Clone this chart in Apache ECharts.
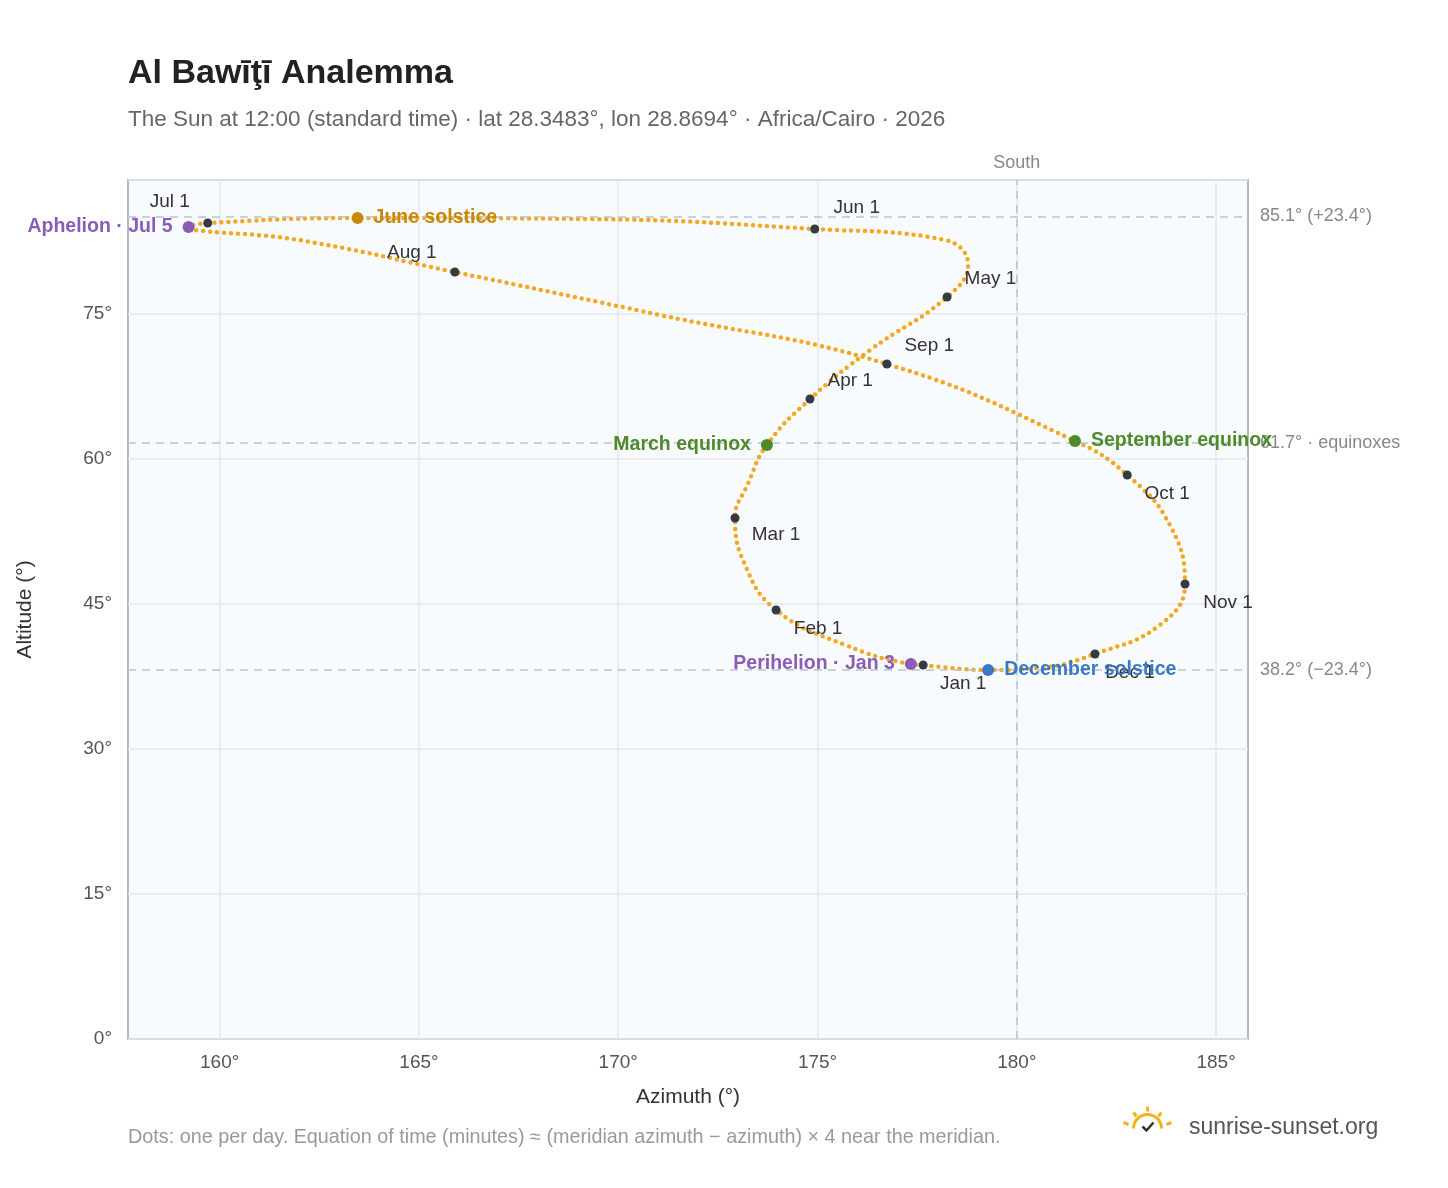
<!DOCTYPE html>
<html><head><meta charset="utf-8">
<script src="https://cdn.jsdelivr.net/npm/echarts@6/dist/echarts.min.js"></script>
<style>html,body{margin:0;padding:0;background:#fff}#c{width:1448px;height:1188px}</style>
</head><body><div id="c"></div>
<script>
// Analemma path (azimuth °, altitude °), Jan 1 → Jan 1
const pathAz  = [177.65,177.34,175.69,173.96,173.18,172.93,173.25,173.73,174.81,176.32,178.25,178.78,178.2,174.93,169.29,163.46,159.70,159.22,162.0,165.90,171.04,176.74,181.46,182.77,183.84,184.22,183.59,181.96,180.58,179.28,177.65];
const pathAlt = [38.69,38.79,40.76,44.38,49.03,53.9,57.4,61.45,66.2,71.27,76.76,80.07,82.65,83.79,84.82,84.93,84.41,84.0,82.65,79.34,74.9,69.83,61.86,58.34,53.17,47.07,42.83,39.83,38.38,38.17,38.69];
// Month-start markers
const months   = ['Jan 1','Feb 1','Mar 1','Apr 1','May 1','Jun 1','Jul 1','Aug 1','Sep 1','Oct 1','Nov 1','Dec 1'];
const monthAz  = [177.65,173.96,172.93,174.81,178.25,174.93,159.70,165.90,176.74,182.77,184.22,181.96];
const monthAlt = [38.69,44.38,53.9,66.2,76.76,83.79,84.41,79.34,69.83,58.34,47.07,39.83];
// Special events
const events   = ['June solstice','Aphelion · Jul 5','March equinox','September equinox','Perihelion · Jan 3','December solstice'];
const eventAz  = [163.46,159.22,173.73,181.46,177.34,179.28];
const eventAlt = [84.93,84.0,61.45,61.86,38.79,38.17];
// Reference lines
const refAlt = [85.1,61.7,38.2];
const refLabels = ['85.1° (+23.4°)','61.7° · equinoxes','38.2° (−23.4°)'];
const xTicks = [160,165,170,175,180,185];

const monthPos = {'Jan 1':['bottom',[40,0]],'Feb 1':['bottom',[42,0]],'Mar 1':['bottom',[41,-2]],'Apr 1':['right',[8,-18]],
 'May 1':['right',[8,-18]],'Jun 1':['top',[42,-2]],'Jul 1':['top',[-38,-2]],'Aug 1':['top',[-43,0]],
 'Sep 1':['right',[8,-18]],'Oct 1':['bottom',[40,0]],'Nov 1':['bottom',[43,0]],'Dec 1':['bottom',[35,0]]};
const evStyle = {'June solstice':['#c8890a','right'],'Aphelion · Jul 5':['#8a5cb8','left'],'March equinox':['#4f8a2a','left'],
 'September equinox':['#4f8a2a','right'],'Perihelion · Jan 3':['#8a5cb8','left'],'December solstice':['#3a78c4','right']};

const chart = echarts.init(document.getElementById('c'));
const F = 'Liberation Sans, Arial, sans-serif';
chart.setOption({
  animation:false,
  textStyle:{fontFamily:F},
  title:[{text:'Al Bawīţī Analemma',left:123,top:52,textStyle:{fontSize:34,fontWeight:'bold',color:'#222',fontFamily:F}},
   {text:'The Sun at 12:00 (standard time) · lat 28.3483°, lon 28.8694° · Africa/Cairo · 2026',left:123,top:103,textStyle:{fontSize:22.5,fontWeight:'normal',color:'#666',fontFamily:F}},
   {text:'Dots: one per day. Equation of time (minutes) ≈ (meridian azimuth − azimuth) × 4 near the meridian.',left:123,top:1123,textStyle:{fontSize:19.8,fontWeight:'normal',color:'#999',fontFamily:F}},
   {text:'sunrise-sunset.org',left:1184,top:1111,textStyle:{fontSize:23,fontWeight:'normal',color:'#555',fontFamily:F}}],
  graphic:[{type:'group',left:1121,top:1104,children:[
    {type:'arc',shape:{cx:27,cy:26,r:14,startAngle:Math.PI,endAngle:2*Math.PI},style:{stroke:'#f2b41c',lineWidth:3,fill:null}},
    {type:'line',shape:{x1:27,y1:4,x2:27,y2:9},style:{stroke:'#f2b41c',lineWidth:3}},
    {type:'line',shape:{x1:13,y1:10,x2:16,y2:14},style:{stroke:'#f2b41c',lineWidth:3}},
    {type:'line',shape:{x1:41,y1:10,x2:38,y2:14},style:{stroke:'#f2b41c',lineWidth:3}},
    {type:'line',shape:{x1:3,y1:20,x2:8,y2:22},style:{stroke:'#f2b41c',lineWidth:3}},
    {type:'line',shape:{x1:51,y1:20,x2:46,y2:22},style:{stroke:'#f2b41c',lineWidth:3}},
    {type:'polyline',shape:{points:[[22,24],[26,28],[33,20]]},style:{stroke:'#333',lineWidth:2.5,fill:null}}
  ]}],
  grid:{left:128,top:180,right:200,bottom:149,show:true,backgroundColor:'#f8fbfe',borderColor:'#9aa5b1',borderWidth:1.5},
  xAxis:{type:'value',min:157.7,max:185.8,name:'Azimuth (°)',nameLocation:'middle',nameGap:48,
    nameTextStyle:{fontSize:21,color:'#333'},
    axisLine:{show:false},axisTick:{show:false,customValues:xTicks},
    axisLabel:{customValues:xTicks,fontSize:19,color:'#555',formatter:v=>v+'°',margin:14},
    splitLine:{show:true,lineStyle:{color:'#e3e8ee',width:1.5}}},
  yAxis:{type:'value',min:0,max:88.86,interval:15,name:'Altitude (°)',nameLocation:'middle',nameGap:92,
    nameTextStyle:{fontSize:21,color:'#333'},
    axisLine:{show:false},axisTick:{show:false},
    axisLabel:{fontSize:19,color:'#555',formatter:v=>v+'°',showMaxLabel:false,margin:16},
    splitLine:{lineStyle:{color:'#e3e8ee',width:1.5}}},
  series:[
    {type:'line',data:pathAz.map((a,i)=>[a,pathAlt[i]]),smooth:0.45,symbol:'none',
     lineStyle:{color:'#f5a623',width:4.5,type:[0,7],cap:'round'},z:3,
     markLine:{silent:true,symbol:'none',
       lineStyle:{color:'#b9c3cd',type:[8,6],width:1.5},
       label:{color:'#888',fontSize:18},
       data:[...refAlt.map((v,i)=>({yAxis:v,label:{position:'end',formatter:refLabels[i],distance:12}})),
             {xAxis:180,label:{position:'end',formatter:'South',distance:8}}]}},
    {type:'scatter',symbolSize:9,z:5,itemStyle:{color:'#333a44',opacity:1},
     data:months.map((m,i)=>({value:[monthAz[i],monthAlt[i]],
       label:{show:true,formatter:m,position:monthPos[m][0],offset:monthPos[m][1],fontSize:19,color:'#333'}}))},
    {type:'scatter',symbolSize:12,z:6,
     data:events.map((e,i)=>({value:[eventAz[i],eventAlt[i]],itemStyle:{color:evStyle[e][0],opacity:1},
       label:{show:true,formatter:e,position:evStyle[e][1],distance:10,fontSize:19.5,fontWeight:'bold',color:evStyle[e][0]}}))}
  ]
});
</script></body></html>
